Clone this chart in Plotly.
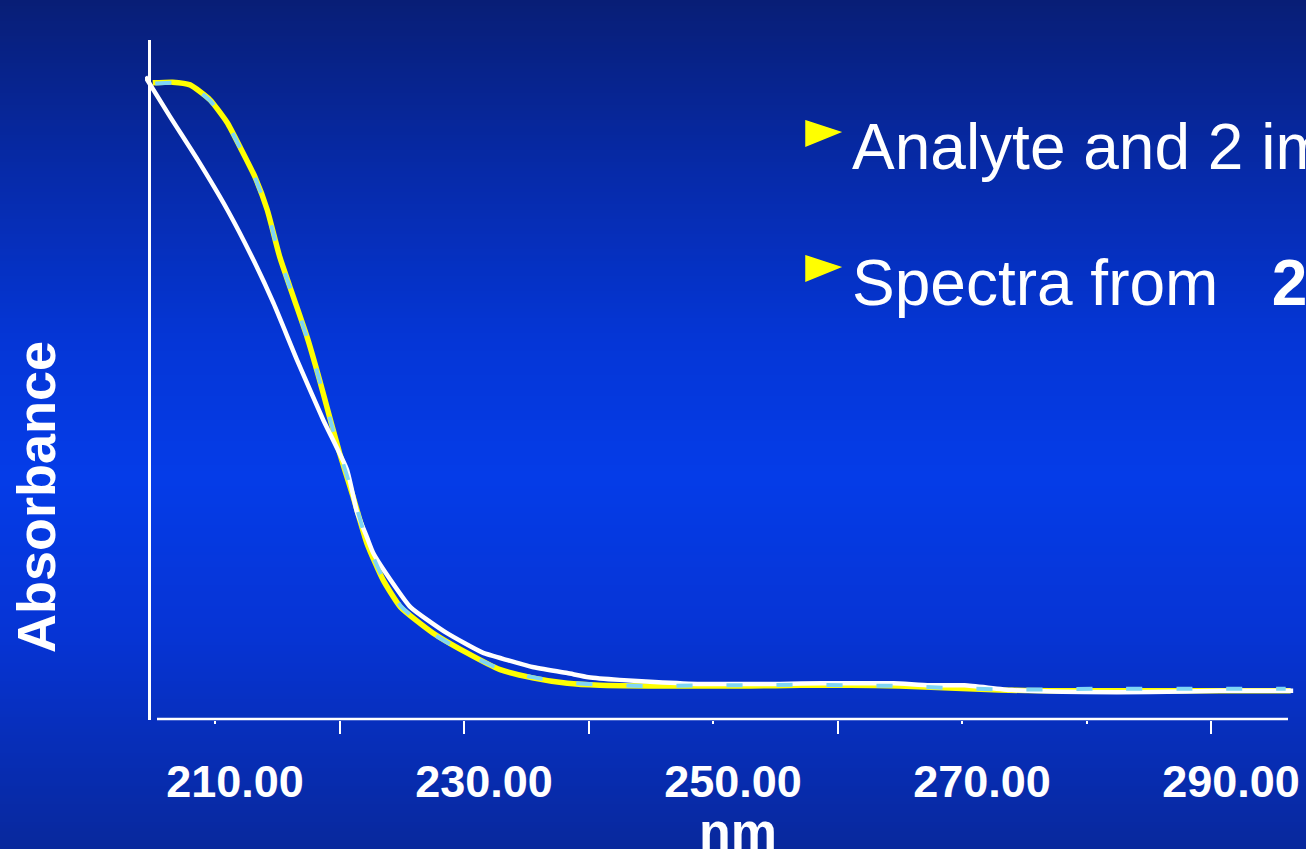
import plotly.graph_objects as go

W, H = 1306, 849

# ---------------- data ----------------
wl_analyte = [205.0, 206.6, 208.0, 209.6, 211.0, 212.0, 213.2, 214.2, 215.2, 216.3, 217.4, 218.4,
              219.2, 220.0, 221.1, 222.2, 223.5, 224.9, 227.5, 230.2, 232.9, 235.5, 238.3, 240.9,
              244.9, 249.0, 253.0, 257.0, 261.0, 265.0, 269.0, 273.0, 277.1, 281.1, 289.1, 296.4]
abs_analyte = [0.937, 0.938, 0.934, 0.912, 0.878, 0.843, 0.799, 0.750, 0.681, 0.622, 0.563, 0.500,
               0.446, 0.393, 0.328, 0.260, 0.206, 0.166, 0.128, 0.099, 0.074, 0.062, 0.054, 0.051,
               0.050, 0.050, 0.050, 0.051, 0.051, 0.050, 0.047, 0.044, 0.043, 0.043, 0.043, 0.043]

wl_imp1 = [204.4, 206.4, 208.6, 211.0, 213.1, 214.7, 216.6, 218.7, 220.6, 221.4, 222.2, 222.7,
           224.1, 225.7, 228.6, 231.5, 233.5, 235.5, 238.3, 240.0, 242.5, 245.3, 249.0, 251.9,
           255.4, 258.8, 261.8, 264.5, 267.4, 270.2, 274.0, 279.8, 285.1, 290.7, 296.6]
abs_imp1 = [0.946, 0.887, 0.824, 0.750, 0.676, 0.613, 0.529, 0.441, 0.368, 0.306, 0.269, 0.246,
            0.206, 0.166, 0.128, 0.099, 0.088, 0.078, 0.069, 0.063, 0.059, 0.056, 0.053, 0.053,
            0.053, 0.054, 0.054, 0.054, 0.051, 0.051, 0.044, 0.041, 0.041, 0.043, 0.043]

wl_imp2 = [205.2, 206.6, 208.0, 209.6, 211.0, 212.0, 213.2, 214.2, 215.2, 216.3, 217.4, 218.4,
           219.2, 220.0, 221.1, 222.2, 223.5, 224.9, 227.5, 230.2, 232.9, 235.5, 238.3, 240.9,
           244.9, 249.0, 253.0, 257.0, 261.0, 265.0, 269.0, 273.0, 277.1, 281.1, 289.1, 296.0]
abs_imp2 = [0.936, 0.937, 0.933, 0.911, 0.877, 0.842, 0.798, 0.749, 0.680, 0.621, 0.562, 0.499,
            0.445, 0.394, 0.330, 0.262, 0.208, 0.168, 0.127, 0.098, 0.075, 0.063, 0.055, 0.052,
            0.050, 0.051, 0.051, 0.052, 0.051, 0.050, 0.047, 0.045, 0.045, 0.046, 0.046, 0.046]

tick_values = [210, 230, 250, 270, 280, 290]
tick_labels = ["210.00", "230.00", "250.00", "270.00", "", "290.00"]
long_tick_values = [220, 230, 240, 260, 290]

bullet_lines = ["Analyte and 2 impurities",
                "Spectra from\u00a0\u00a0\u00a0<b>200 - 300 nm</b>"]

# ---------------- styling helpers ----------------
FONT = "Liberation Sans, Arial, Helvetica, sans-serif"


def px_x(p):
    return p / W


def px_y(p):
    return 1 - p / H


# vertical background gradient (navy -> bright blue -> darker blue)
stops = [(0.0, (8, 30, 118)), (0.2, (6, 42, 168)), (0.4, (5, 54, 214)),
         (0.56, (5, 60, 232)), (0.75, (6, 52, 212)), (1.0, (8, 40, 156))]


def grad_color(t):
    for (t0, c0), (t1, c1) in zip(stops[:-1], stops[1:]):
        if t0 <= t <= t1:
            f = (t - t0) / (t1 - t0)
            c = [round(a + (b - a) * f) for a, b in zip(c0, c1)]
            return f"rgb({c[0]},{c[1]},{c[2]})"
    c = stops[-1][1]
    return f"rgb({c[0]},{c[1]},{c[2]})"


shapes = []
band = 3
for y0 in range(0, H, band):
    y1 = min(H, y0 + band + 1)
    col = grad_color((y0 + band / 2) / H)
    shapes.append(dict(type="rect", xref="paper", yref="paper", x0=0, x1=1,
                       y0=px_y(y1), y1=px_y(y0), fillcolor=col, line=dict(width=0),
                       layer="below"))

# x-axis line (starts just right of the y-axis, as in the reference)
shapes.append(dict(type="line", xref="paper", yref="paper",
                   x0=px_x(157), x1=px_x(1288), y0=px_y(719), y1=px_y(719),
                   line=dict(color="white", width=2.5), layer="above"))

# yellow bullet triangles
for (top, bot, tipy) in [(121, 146, 132), (256, 281, 267)]:
    path = (f"M {px_x(806)},{px_y(top)} L {px_x(840)},{px_y(tipy)} "
            f"L {px_x(806)},{px_y(bot)} Z")
    shapes.append(dict(type="path", xref="paper", yref="paper", path=path,
                       fillcolor="#ffff00", line=dict(color="#ffff00", width=1.5),
                       layer="above"))

fig = go.Figure()
fig.add_trace(go.Scatter(x=wl_analyte, y=abs_analyte, mode="lines",
                         line=dict(color="#ffff00", width=5.5, shape="spline", smoothing=0.5),
                         showlegend=False, hoverinfo="skip"))
fig.add_trace(go.Scatter(x=wl_imp1, y=abs_imp1, mode="lines",
                         line=dict(color="white", width=4.5, shape="spline", smoothing=0.5),
                         showlegend=False, hoverinfo="skip"))
fig.add_trace(go.Scatter(x=wl_imp2, y=abs_imp2, mode="lines",
                         line=dict(color="#7fd6f5", width=4, dash="16px,34px",
                                   shape="spline", smoothing=0.5),
                         showlegend=False, hoverinfo="skip"))

annotations = [
    dict(text="<b>Absorbance</b>", xref="paper", yref="paper", x=px_x(36), y=px_y(497),
         xanchor="center", yanchor="middle", textangle=-90, showarrow=False,
         font=dict(family=FONT, size=54, color="white")),
    dict(text="<b>nm</b>", xref="paper", yref="paper", x=px_x(738), y=px_y(831),
         xanchor="center", yanchor="middle", showarrow=False,
         font=dict(family=FONT, size=52, color="white")),
    dict(text=bullet_lines[0], xref="paper", yref="paper", x=px_x(850), y=px_y(147),
         xanchor="left", yanchor="middle", showarrow=False,
         font=dict(family=FONT, size=64, color="white")),
    dict(text=bullet_lines[1], xref="paper", yref="paper", x=px_x(850), y=px_y(283),
         xanchor="left", yanchor="middle", showarrow=False,
         font=dict(family=FONT, size=64, color="white")),
]

x_left_px, x_right_px = 145, 1295
px_per_nm = 12.45
x_range = [210 - (215 - x_left_px) / px_per_nm, 210 + (x_right_px - 215) / px_per_nm]

fig.update_layout(
    width=W, height=H, autosize=False,
    margin=dict(l=0, r=0, t=0, b=0, pad=0, autoexpand=False),
    paper_bgcolor="rgb(6,48,200)",
    plot_bgcolor="rgba(0,0,0,0)",
    showlegend=False,
    shapes=shapes,
    annotations=annotations,
    xaxis=dict(
        domain=[px_x(x_left_px), px_x(x_right_px)],
        range=x_range, anchor="y", automargin=False,
        showline=False, showgrid=False, zeroline=False,
        tickmode="array", tickvals=tick_values, ticktext=tick_labels,
        ticks="outside", ticklen=3, tickwidth=2, tickcolor="white",
        tickfont=dict(family=FONT, size=45, color="white", weight="bold"),
        ticklabelshift=20, ticklabelstandoff=19,
        minor=dict(tickmode="array", tickvals=long_tick_values, ticks="outside",
                   ticklen=13, tickwidth=2, tickcolor="white", showgrid=False),
    ),
    yaxis=dict(
        domain=[px_y(720), px_y(40)],
        range=[0, 1], anchor="free", position=px_x(149), automargin=False,
        showline=True, linecolor="white", linewidth=2.5,
        showgrid=False, zeroline=False, ticks="", showticklabels=False,
    ),
)

fig.write_html(
    "out.html",
    config={"displayModeBar": False},
    post_script=("document.documentElement.style.margin='0';"
                 "document.documentElement.style.overflow='hidden';"
                 "document.body.style.margin='0';document.body.style.overflow='hidden';"),
)
